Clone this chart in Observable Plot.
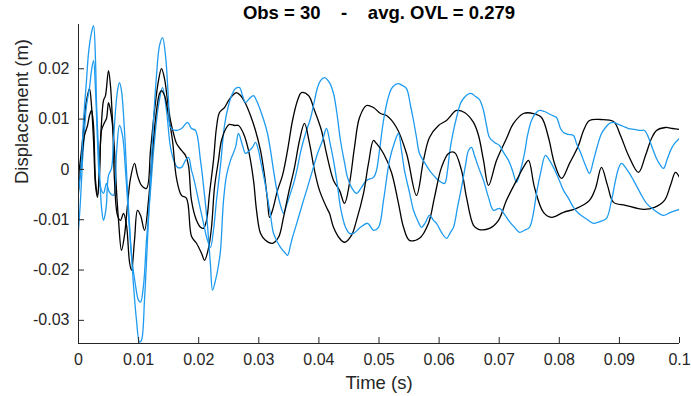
<!DOCTYPE html>
<html>
<head>
<meta charset="utf-8">
<script src="https://cdn.jsdelivr.net/npm/d3@7"></script>
<script src="https://cdn.jsdelivr.net/npm/@observablehq/plot@0.6"></script>
<style>
  html, body { margin: 0; padding: 0; background: #fff; }
  #chart { width: 691px; height: 396px; }
</style>
</head>
<body>
<div id="chart"></div>
<script>
// Title and axis texts
const titleText = "Obs = 30\u00a0\u00a0\u00a0\u00a0-\u00a0\u00a0\u00a0\u00a0avg. OVL = 0.279";
const xLabel = "Time (s)";
const yLabel = "Displacement (m)";
const xTicks = [0, 0.01, 0.02, 0.03, 0.04, 0.05, 0.06, 0.07, 0.08, 0.09, 0.1];
const yTicks = [-0.03, -0.02, -0.01, 0, 0.01, 0.02];
const xDomain = [0, 0.1];
const yDomain = [-0.0346, 0.0288];

// Series (time in ms, displacement in mm)
const k1T = [0,0.50,1.00,1.33,1.83,2.16,2.50,2.83,3.16,3.49,3.83,4.16,4.49,4.99,5.32,5.66,5.99,6.32,6.66,7.15,7.65,8.15,8.65,9.32,9.82,10.48,11.31,11.98,12.65,13.31,13.81,14.31,14.81,15.31,15.81,16.31,17.14,17.80,18.30,18.80,19.63,20.30,20.80,21.30,21.80,22.46,22.96,23.46,24.29,24.96,25.62,26.29,26.96,27.79,28.62,29.45,30.28,30.95,31.45,31.78,32.28,33.11,33.94,34.78,35.61,36.44,37.10,38.27,39.27,40.43,41.26,42.43,43.43,44.26,45.09,45.92,46.76,47.92,49.08,50.25,51.25,52.91,54.58,56.24,57.40,58.40,59.90,61.23,62.90,64.23,65.72,66.56,67.39,68.22,69.55,71.21,72.38,74.04,75.71,77.04,78.20,79.20,80.37,81.70,83.19,84.03,85.02,86.86,89.02,90.18,91.51,93.18,94.34,95.34,96.17,97.67,98.84,100];
const k1D = [-1.19,3.77,10.12,13.69,16.07,12.70,5.75,-3.17,-5.56,0.79,9.33,13.69,14.68,19.64,16.67,9.72,3.77,-4.17,-10.12,-16.07,-13.10,-7.14,-1.79,1.19,-1.19,-3.17,-3.77,3.77,11.71,17.66,20.04,18.06,13.69,9.72,7.14,5.16,3.77,2.78,0.79,-6.15,-10.12,-11.51,-11.71,-10.12,-4.76,1.79,8.33,11.31,12.30,13.69,14.68,15.28,14.68,13.10,10.71,7.74,3.77,-1.19,-6.15,-9.52,-8.13,-4.17,-1.19,3.77,9.72,13.69,15.28,14.68,11.71,7.74,3.17,-2.18,-4.17,-6.75,-2.78,4.37,10.32,12.70,12.30,11.11,10.71,8.33,3.17,-5.16,1.79,6.35,8.73,9.72,11.71,11.31,9.33,6.75,1.79,-3.17,1.79,6.15,9.13,11.11,11.11,10.32,6.35,1.19,-1.79,1.19,4.76,7.74,9.72,9.92,9.52,6.75,2.78,-0.60,2.78,6.15,7.74,8.33,8.13,7.94];

const k2T = [0,0.50,1.00,1.50,1.83,2.16,2.50,2.83,3.16,3.49,3.83,4.33,4.66,4.99,5.32,5.66,5.99,6.49,6.99,7.49,7.99,8.49,8.82,9.32,9.82,10.32,10.98,11.65,12.31,12.98,13.48,13.81,14.31,14.98,15.64,16.31,17.14,17.97,18.80,19.63,20.47,20.97,21.63,22.13,22.63,23.29,23.79,24.63,25.12,25.96,26.62,27.45,28.29,29.12,29.62,30.28,31.11,32.28,33.28,34.11,34.94,35.94,36.77,37.60,38.44,39.27,40.10,41.26,41.76,42.43,43.43,44.26,45.42,46.26,47.42,48.25,49.08,49.58,50.75,52.08,53.24,54.08,55.07,56.74,58.24,59.23,60.40,61.56,62.56,63.73,64.56,65.72,66.56,68.39,69.88,71.21,72.88,74.21,74.88,75.87,77.37,78.70,80.70,82.86,85.02,86.02,87.02,88.02,89.02,91.01,94.01,95.84,97.50,98.50,99.33,100];
const k2D = [-4.17,1.79,6.75,8.73,10.71,11.71,8.73,-2.18,-5.16,-1.19,7.74,9.33,10.12,13.29,11.71,8.73,-2.18,-9.13,-10.12,-8.73,-11.11,-18.45,-20.04,-14.09,-8.13,-9.13,-12.10,-6.15,3.77,11.71,15.08,15.67,14.68,10.71,5.75,-1.79,-5.16,-5.75,-13.29,-14.68,-16.67,-18.06,-15.67,-11.51,-3.57,1.79,5.75,8.33,8.93,8.73,8.73,7.14,3.77,-2.18,-8.13,-12.70,-14.09,-14.68,-13.49,-9.52,-4.76,0.40,5.75,9.13,5.16,-0.20,-4.17,-7.54,-8.73,-11.51,-13.69,-14.48,-13.10,-10.12,-4.76,1.19,5.75,5.16,3.17,-0.60,-6.75,-11.51,-14.09,-13.69,-10.71,-5.56,0.40,3.17,3.37,-0.20,-5.56,-11.11,-11.90,-11.71,-10.12,-6.15,-2.18,0.79,1.79,-3.57,-8.53,-9.52,-8.53,-7.74,-6.15,-3.77,0.40,-3.17,-6.55,-7.14,-7.94,-7.54,-6.15,-3.17,-0.60,-1.59];

const b1T = [0,0.33,0.67,1.00,1.33,1.83,2.16,2.50,2.83,3.16,3.49,3.83,4.16,4.66,5.16,5.82,6.32,6.82,7.32,7.82,8.32,8.82,9.48,9.98,10.32,10.82,11.31,11.98,12.65,13.31,13.98,14.64,15.31,15.97,16.47,17.14,17.80,18.30,18.80,19.13,19.97,20.80,21.46,21.96,22.46,22.96,23.63,24.29,24.96,25.62,26.12,26.79,27.29,27.79,28.45,29.12,29.62,30.28,30.95,31.45,31.95,32.45,32.95,33.61,34.11,34.61,35.27,35.94,36.44,36.94,37.44,38.10,38.60,39.27,39.77,40.27,40.93,41.76,42.43,42.93,43.59,44.26,44.76,45.42,46.26,47.09,47.92,49.08,49.58,50.08,50.75,51.41,52.08,52.75,53.24,53.91,54.58,55.24,55.74,56.24,56.74,57.57,58.40,59.23,59.90,60.90,61.40,61.73,62.23,62.90,63.56,64.06,64.73,65.39,66.06,66.72,67.39,67.89,68.39,69.22,70.05,70.72,71.55,72.21,72.88,73.54,74.21,74.71,75.37,76.04,76.71,77.54,78.20,78.87,79.53,80.20,80.70,81.53,82.36,82.86,83.53,84.36,85.02,85.69,86.36,87.02,87.69,88.35,89.02,89.85,90.68,91.51,92.51,93.51,94.18,94.84,95.51,96.17,96.84,97.34,98.00,98.67,99.33,100];
const b1D = [-12.10,-6.15,1.79,7.74,12.70,16.27,19.64,21.63,15.67,5.75,-2.18,-4.17,-4.76,-2.78,-4.56,-5.16,3.17,8.73,6.75,-0.20,-9.13,-17.06,-23.02,-25.99,-26.39,-23.02,-14.09,-4.17,5.75,12.70,16.27,11.71,4.37,1.39,0.40,0.40,1.79,2.38,-0.20,-1.59,-6.15,-10.71,-14.09,-15.48,-12.10,-6.15,0.79,8.73,12.70,15.08,16.07,16.27,14.68,13.29,14.09,14.68,13.69,11.71,9.33,7.14,3.77,-0.20,-3.77,-7.14,-8.73,-7.14,-4.76,-2.18,0.40,3.37,5.75,8.33,10.12,13.69,16.27,17.66,18.25,17.26,15.08,11.71,5.75,1.39,-1.59,-3.57,-4.76,-3.57,-2.18,-1.59,-0.20,3.77,9.72,13.69,16.07,16.87,17.06,16.67,16.07,12.70,9.72,6.35,3.17,1.39,-0.20,-1.39,-2.18,-2.78,-0.20,3.17,6.75,10.32,13.10,14.09,14.88,15.08,14.48,13.89,11.71,8.73,6.35,5.36,4.76,3.37,1.79,-0.20,-2.58,-0.20,3.17,6.75,9.72,11.11,11.71,11.51,11.11,10.71,10.32,8.13,7.34,6.94,6.75,5.16,3.37,0.79,-0.79,1.79,4.76,7.14,8.33,9.13,9.33,8.93,8.53,8.13,7.94,7.74,7.74,6.35,4.17,2.18,0.79,0.20,2.18,4.17,5.36,6.15];

const b2T = [0,0.50,0.83,1.33,1.66,2.16,2.50,2.83,3.00,3.33,3.49,3.83,4.16,4.49,4.66,4.99,5.49,5.82,6.16,6.49,6.82,7.15,7.65,8.15,8.65,9.15,9.65,10.15,10.48,10.98,11.48,11.98,12.48,12.98,13.48,13.98,14.48,14.98,15.31,16.14,17.14,18.14,18.80,19.47,20.30,20.97,21.46,21.96,22.30,22.80,23.29,23.63,24.13,24.63,25.29,26.12,26.62,27.29,27.79,28.45,28.95,29.45,29.95,30.28,30.95,31.45,31.95,32.45,33.11,33.61,34.28,34.78,35.27,35.61,36.11,36.61,37.44,38.10,38.94,39.77,40.60,41.26,41.93,42.43,43.09,43.59,44.43,45.09,45.76,46.92,48.09,49.08,49.92,50.75,51.75,52.58,53.24,53.74,54.24,55.07,55.74,56.41,57.07,57.74,58.40,59.07,59.57,60.40,61.23,61.90,62.40,63.06,63.73,64.39,64.89,65.39,65.89,66.56,67.39,68.22,69.05,70.05,70.88,71.55,72.55,73.38,74.21,75.04,75.71,76.21,76.87,77.70,78.37,79.03,79.87,80.70,81.53,82.36,83.19,84.36,85.69,86.86,87.85,88.69,89.35,89.85,90.35,91.35,92.35,93.51,94.51,95.84,97.34,98.50,100];
const b2D = [-4.76,1.79,9.72,17.66,23.02,27.18,28.57,21.63,13.10,3.77,-0.20,-7.54,-10.12,-8.53,-6.75,-1.19,0.20,5.75,11.71,15.67,17.26,15.67,7.74,-4.17,-14.09,-23.02,-29.96,-34.33,-33.93,-25.99,-14.09,-2.18,9.72,18.65,24.60,26.19,22.62,13.69,8.33,7.74,8.13,9.33,8.13,7.74,1.79,-5.16,-11.11,-19.05,-24.01,-22.02,-19.05,-16.07,-6.15,-1.19,1.79,4.37,7.14,4.76,3.17,3.77,4.37,5.36,3.77,1.79,-2.18,-5.56,-9.13,-12.70,-14.48,-15.48,-16.47,-17.06,-15.08,-13.49,-11.51,-9.52,-6.15,-3.57,-0.20,3.17,5.75,8.13,4.76,1.79,-3.17,-7.54,-11.51,-12.70,-12.70,-11.51,-10.71,-12.10,-11.51,-6.15,1.79,5.36,7.14,3.77,-0.20,-4.56,-8.13,-10.12,-11.51,-10.52,-9.13,-10.12,-10.71,-12.50,-13.69,-12.50,-11.51,-7.54,-3.57,0.79,3.77,4.37,2.78,0.40,-2.18,-5.56,-8.13,-7.74,-8.93,-10.12,-11.51,-12.50,-12.10,-11.51,-8.53,-4.76,-0.79,2.78,1.79,0.40,-1.79,-4.17,-5.75,-7.54,-8.73,-9.72,-10.71,-10.32,-9.72,-6.15,-2.18,0.20,1.19,-0.20,-2.18,-4.76,-6.75,-8.13,-9.13,-8.53,-7.94];

const seriesNames = ["k1", "b1", "k2", "b2"];
const seriesColors = {k1: "#000000", k2: "#000000", b1: "#1e9bf0", b2: "#1e9bf0"};
const seriesData = {k1: [k1T, k1D], k2: [k2T, k2D], b1: [b1T, b1D], b2: [b2T, b2D]};

const rows = [];
for (const name of seriesNames) {
  const [T, D] = seriesData[name];
  T.forEach((t, i) => rows.push({series: name, t: t / 1000, d: D[i] / 1000}));
}

const W = 691, H = 396;
const mL = 78, mR = 12, mT = 24, mB = 53;
const plotW = W - mL - mR, plotH = H - mT - mB;
const axisColor = "#262626";
const font = "'Liberation Sans', Arial, Helvetica, sans-serif";

const chart = Plot.plot({
  width: W,
  height: H,
  marginLeft: mL,
  marginRight: mR,
  marginTop: mT,
  marginBottom: mB,
  x: {domain: xDomain},
  y: {domain: yDomain},
  style: {fontFamily: font, fontSize: "16px", color: axisColor, background: "#fff", overflow: "visible"},
  marks: [
    Plot.line(rows, {
      x: "t", y: "d", z: "series",
      stroke: d => seriesColors[d.series],
      strokeWidth: 1.3,
      curve: "catmull-rom",
      clip: true
    }),
    Plot.ruleX([xDomain[0]], {stroke: axisColor, strokeWidth: 1}),
    Plot.ruleY([yDomain[0]], {stroke: axisColor, strokeWidth: 1}),
    Plot.tickX(xTicks, {x: d => d, insetTop: plotH - 6, stroke: axisColor, strokeWidth: 1}),
    Plot.tickY(yTicks, {y: d => d, insetRight: plotW - 6, stroke: axisColor, strokeWidth: 1}),
    Plot.axisX(xTicks, {tickSize: 0, tickPadding: 10, tickFormat: d => String(d), label: null, fontSize: 16, fill: axisColor}),
    Plot.axisY(yTicks, {tickSize: 0, tickPadding: 9, tickFormat: d => String(d), label: null, fontSize: 16, fill: axisColor}),
    Plot.text([xLabel], {text: d => d, frameAnchor: "bottom", lineAnchor: "bottom", dy: 45, fontSize: 18.5, fill: axisColor}),
    Plot.text([yLabel], {text: d => d, frameAnchor: "left", rotate: -90, dx: -56, fontSize: 18.5, fill: axisColor}),
    Plot.text([titleText], {text: d => d, frameAnchor: "top", lineAnchor: "bottom", dy: -6, fontSize: 18.5, fontWeight: "bold", fill: "#000"})
  ]
});
document.getElementById("chart").appendChild(chart);
</script>
</body>
</html>
